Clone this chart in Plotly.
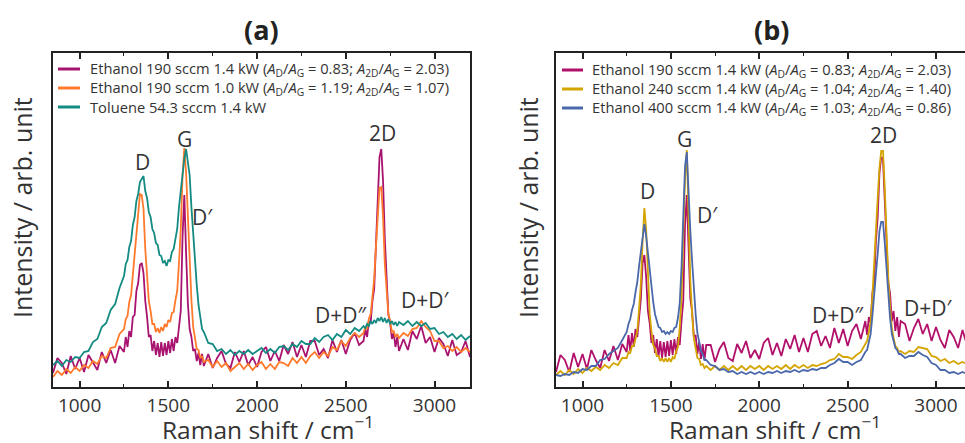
import plotly.graph_objects as go

# ---------------- data ----------------
raman_shift = [850, 875, 900, 925, 950, 975, 1000, 1025, 1050, 1075, 1100, 1125, 1150, 1175, 1200, 1225, 1250,
               1260, 1270, 1280, 1290, 1300, 1310, 1320, 1330, 1340, 1350, 1360, 1370, 1380, 1390, 1400,
               1410, 1420, 1430, 1440, 1450, 1460, 1470, 1480, 1490, 1500, 1510, 1520, 1530, 1540, 1550,
               1560, 1570, 1580, 1590, 1600, 1610, 1620, 1630, 1640, 1650, 1660, 1670, 1680, 1690, 1700,
               1725, 1750, 1775, 1800, 1825, 1850, 1875, 1900, 1925, 1950, 1975, 2000, 2025, 2050, 2075,
               2100, 2125, 2150, 2175, 2200, 2225, 2250, 2275, 2300, 2325, 2350, 2375, 2400, 2425, 2450,
               2475, 2500, 2525, 2550, 2575,
               2600, 2610, 2620, 2630, 2640, 2650, 2660, 2670, 2680, 2690, 2700, 2710, 2720, 2730, 2740,
               2750, 2760, 2770, 2780, 2790, 2800,
               2825, 2850, 2875, 2900, 2925, 2950, 2975, 3000, 3025, 3050, 3075, 3100, 3125, 3150, 3175, 3200]

# panel (a)
a_eth190_14kw = [14, 29, 24, 13, 31, 18, 29, 15, 32, 25, 17, 35, 24, 37, 24, 41, 35,
                 50, 40, 56, 50, 70, 72, 96, 104, 122, 124, 114, 86, 70, 50, 52, 36, 46, 32, 44, 30,
                 45, 31, 44, 32, 46, 34, 48, 36, 50, 44, 60, 76, 150, 192, 134, 84, 58, 50, 36, 38,
                 26, 34, 22, 33, 21,
                 33, 19, 29, 36, 23, 19, 35, 25, 36, 22, 30, 20, 35, 40, 26, 36, 26, 42, 33, 45,
                 30, 42, 30, 46, 46, 32, 38, 29, 47, 35, 47, 33, 47, 54, 42,
                 46, 58, 50, 66, 64, 86, 98, 142, 188, 230, 238, 206, 148, 108, 72, 64, 48, 54, 40, 50, 36,
                 48, 37, 56, 48, 61, 44, 50, 35, 49, 43, 31, 47, 32, 35, 46, 30]
a_eth190_10kw = [10, 16, 12, 18, 14, 20, 16, 22, 19, 26, 23, 31, 29, 39, 40, 53, 58,
                 68, 71, 85, 92, 112, 128, 156, 176, 193, 192, 178, 138, 110, 86, 76, 63, 63, 55, 59, 54,
                 60, 56, 63, 60, 67, 65, 74, 75, 87, 96, 124, 158, 211, 239, 214, 166, 117, 87, 60, 50,
                 38, 37, 29, 31, 25,
                 27, 20, 26, 20, 24, 16, 20, 24, 18, 23, 17, 22, 25, 18, 23, 18, 25, 24, 21, 29,
                 24, 30, 24, 31, 35, 29, 35, 31, 40, 37, 46, 41, 49, 54, 50,
                 54, 60, 58, 68, 73, 90, 108, 140, 170, 199, 200, 170, 123, 97, 73, 66, 55, 56, 50, 53, 49,
                 54, 51, 58, 59, 66, 60, 56, 46, 46, 39, 41, 36, 40, 35, 39, 35]
a_toluene = [22, 26, 21, 27, 25, 30, 29, 35, 36, 45, 48, 60, 64, 77, 83, 99, 111,
             123, 127, 140, 146, 162, 170, 186, 193, 205, 208, 211, 196, 189, 175, 170, 158, 154, 144, 142, 132,
             131, 124, 126, 121, 127, 126, 135, 138, 150, 158, 180, 196, 217, 228, 238, 226, 212, 180, 152, 120,
             102, 82, 72, 58, 55,
             44, 43, 36, 38, 33, 37, 32, 36, 33, 37, 33, 36, 39, 34, 38, 34, 40, 41, 37, 43,
             40, 46, 43, 43, 49, 45, 50, 52, 47, 53, 50, 57, 53, 59, 56,
             61, 59, 63, 61, 66, 63, 67, 64, 69, 66, 70, 65, 69, 64, 68, 63, 66, 62, 65, 61, 65,
             62, 66, 61, 65, 61, 64, 58, 59, 53, 55, 50, 53, 48, 52, 47, 51]

# panel (b)
b_eth190 = [15, 32, 27, 15, 34, 20, 33, 18, 37, 27, 19, 37, 26, 41, 27, 43, 35,
            52, 36, 54, 40, 58, 50, 74, 88, 124, 132, 110, 76, 64, 44, 52, 34, 48, 30, 46, 29,
            45, 30, 46, 31, 47, 32, 48, 33, 50, 42, 66, 86, 162, 192, 140, 88, 76, 50, 52, 33,
            45, 28, 43, 27, 42,
            42, 25, 38, 45, 29, 26, 43, 34, 46, 29, 37, 28, 44, 49, 32, 44, 31, 48, 38, 52,
            35, 49, 35, 53, 56, 41, 51, 39, 59, 44, 58, 41, 56, 63, 48,
            66, 52, 70, 64, 94, 104, 146, 170, 214, 230, 228, 186, 146, 104, 94, 66, 76, 56, 70, 50, 66,
            63, 46, 59, 68, 53, 63, 46, 60, 47, 39, 57, 50, 39, 57, 42, 54]
b_eth240 = [12, 16, 12, 17, 13, 18, 14, 19, 16, 20, 17, 22, 19, 24, 22, 29, 29,
            35, 34, 41, 41, 50, 56, 78, 103, 146, 179, 158, 111, 73, 56, 42, 39, 31, 31, 26, 29,
            25, 29, 25, 29, 25, 30, 28, 36, 40, 60, 88, 152, 208, 237, 176, 106, 73, 48, 39, 29,
            28, 22, 23, 19, 21,
            17, 21, 17, 21, 17, 21, 17, 21, 17, 21, 18, 21, 17, 21, 18, 21, 18, 22, 18, 22,
            19, 22, 19, 22, 21, 23, 24, 27, 28, 33, 30, 30, 28, 32, 35,
            43, 46, 55, 65, 91, 118, 156, 189, 219, 236, 236, 199, 151, 109, 81, 59, 49, 41, 39, 35, 36,
            33, 36, 35, 40, 39, 38, 31, 30, 26, 28, 24, 26, 23, 25, 23, 25]
b_eth400 = [12, 11, 13, 12, 15, 14, 18, 17, 21, 21, 27, 28, 33, 36, 39, 47, 55,
            63, 68, 77, 83, 95, 105, 121, 135, 153, 163, 151, 134, 117, 97, 85, 73, 67, 60, 59, 55,
            56, 53, 55, 53, 56, 55, 59, 60, 69, 84, 119, 169, 221, 235, 191, 156, 126, 97, 73, 54,
            45, 36, 33, 27, 27,
            22, 21, 17, 18, 15, 16, 13, 15, 13, 15, 13, 15, 13, 15, 14, 16, 14, 16, 15, 17,
            15, 17, 16, 18, 17, 19, 19, 22, 24, 28, 25, 25, 22, 25, 27,
            35, 37, 45, 53, 71, 89, 113, 133, 156, 165, 165, 144, 119, 89, 69, 53, 46, 39, 37, 33, 33,
            29, 31, 31, 35, 32, 30, 24, 22, 17, 17, 14, 15, 13, 15, 13, 14]

legend_a = ["Ethanol 190 sccm 1.4 kW (<i>A</i><sub>D</sub>/<i>A</i><sub>G</sub> = 0.83; <i>A</i><sub>2D</sub>/<i>A</i><sub>G</sub> = 2.03)",
            "Ethanol 190 sccm 1.0 kW (<i>A</i><sub>D</sub>/<i>A</i><sub>G</sub> = 1.19; <i>A</i><sub>2D</sub>/<i>A</i><sub>G</sub> = 1.07)",
            "Toluene 54.3 sccm 1.4 kW"]
legend_b = ["Ethanol 190 sccm 1.4 kW (<i>A</i><sub>D</sub>/<i>A</i><sub>G</sub> = 0.83; <i>A</i><sub>2D</sub>/<i>A</i><sub>G</sub> = 2.03)",
            "Ethanol 240 sccm 1.4 kW (<i>A</i><sub>D</sub>/<i>A</i><sub>G</sub> = 1.04; <i>A</i><sub>2D</sub>/<i>A</i><sub>G</sub> = 1.40)",
            "Ethanol 400 sccm 1.4 kW (<i>A</i><sub>D</sub>/<i>A</i><sub>G</sub> = 1.03; <i>A</i><sub>2D</sub>/<i>A</i><sub>G</sub> = 0.86)"]

peak_labels = ["D", "G", "D\u2032", "2D", "D+D\u2033", "D+D\u2032"]
peak_pos_a = [(1356, 225), (1593, 248), (1695, 170), (2706, 254), (2469, 72), (2949, 87)]
peak_pos_b = [(1367, 196), (1576, 248), (1706, 172), (2701, 252), (2441, 72), (2955, 79)]

colors_a = ["#A8136F", "#FF7A2C", "#138A82"]
colors_b = ["#B0106A", "#D4A400", "#4A68AA"]

W, H = 965, 443
FONT = "Open Sans"
TXT = "#333333"

fig = go.Figure()
for ys, name, c in zip([a_eth190_14kw, a_eth190_10kw, a_toluene], legend_a, colors_a):
    fig.add_trace(go.Scatter(x=raman_shift, y=ys, mode="lines", name=name, showlegend=False,
                             line=dict(color=c, width=1.8), xaxis="x", yaxis="y"))
for ys, name, c in zip([b_eth190, b_eth240, b_eth400], legend_b, colors_b):
    fig.add_trace(go.Scatter(x=raman_shift, y=ys, mode="lines", name=name, showlegend=False,
                             line=dict(color=c, width=1.8), xaxis="x2", yaxis="y2"))

def xax(domain, rng, anchor):
    return dict(domain=domain, range=rng, anchor=anchor, showgrid=False, zeroline=False,
                showline=True, linecolor="#222", linewidth=2, mirror="allticks",
                ticks="inside", ticklen=6, tickwidth=1.5, tickcolor="#222",
                tickvals=[1000, 1500, 2000, 2500, 3000],
                tickfont=dict(family=FONT, size=19, color=TXT),
                minor=dict(ticks="inside", ticklen=3, tickwidth=1.2, tickcolor="#222",
                           tickvals=[1250, 1750, 2250, 2750]))

def yax(domain, anchor, mirror):
    return dict(domain=domain, range=[0, 334], anchor=anchor, showgrid=False, zeroline=False,
                showline=True, linecolor="#222", linewidth=2, mirror=mirror,
                showticklabels=False, ticks="")

yd = [1 - 387 / H, 1 - 53 / H]
fig.update_layout(
    width=W, height=H, margin=dict(l=0, r=0, t=0, b=0, autoexpand=False),
    paper_bgcolor="white", plot_bgcolor="white",
    xaxis=xax([53 / W, 470 / W], [850, 3200], "y"),
    yaxis=yax(yd, "x", True),
    xaxis2=xax([556 / W, 1.0], [850, 3164], "y2"),
    yaxis2=yax(yd, "x2", False),
    showlegend=False,
)

ann = []
shapes = []
# manual legends (line sample + text)
for names, cols, x0, x1, xt, ys in [(legend_a, colors_a, 58, 80, 88, [69, 88, 107]),
                                    (legend_b, colors_b, 562, 583, 590, [70, 89, 108])]:
    for name, c, yy in zip(names, cols, ys):
        shapes.append(dict(type="line", xref="paper", yref="paper", x0=x0 / W, x1=x1 / W,
                           y0=1 - yy / H, y1=1 - yy / H, line=dict(color=c, width=3)))
        ann.append(dict(x=xt / W, y=1 - yy / H, xref="paper", yref="paper", text=name,
                        showarrow=False, xanchor="left", yanchor="middle",
                        font=dict(family=FONT, size=14.7, color=TXT)))

for lab, (px, py) in zip(peak_labels, peak_pos_a):
    ann.append(dict(x=px, y=py, xref="x", yref="y", text=lab, showarrow=False,
                    xanchor="center", yanchor="middle",
                    font=dict(family=FONT, size=21, color=TXT)))
for lab, (px, py) in zip(peak_labels, peak_pos_b):
    ann.append(dict(x=px, y=py, xref="x2", yref="y2", text=lab, showarrow=False,
                    xanchor="center", yanchor="middle",
                    font=dict(family=FONT, size=21, color=TXT)))
# panel titles
for cx, t in [(261, "<b>(a)</b>"), (771, "<b>(b)</b>")]:
    ann.append(dict(x=cx / W, y=1 - 30 / H, xref="paper", yref="paper", text=t, showarrow=False,
                    xanchor="center", yanchor="middle",
                    font=dict(family=FONT, size=27, color="#222")))
# axis titles
for cx in [268, 775]:
    ann.append(dict(x=cx / W, y=0, xref="paper", yref="paper",
                    text="Raman shift / cm<sup>\u22121</sup>", showarrow=False,
                    xanchor="center", yanchor="bottom", height=26, valign="middle",
                    font=dict(family=FONT, size=24.5, color=TXT)))
for cx in [22, 528]:
    ann.append(dict(x=cx / W, y=1 - 208 / H, xref="paper", yref="paper",
                    text="Intensity / arb. unit", showarrow=False, textangle=-90,
                    xanchor="center", yanchor="middle",
                    font=dict(family=FONT, size=25, color=TXT)))
fig.update_layout(annotations=ann, shapes=shapes)

fig.write_html("out.html", config={"displayModeBar": False},
               post_script="document.body.style.margin='0px';")
